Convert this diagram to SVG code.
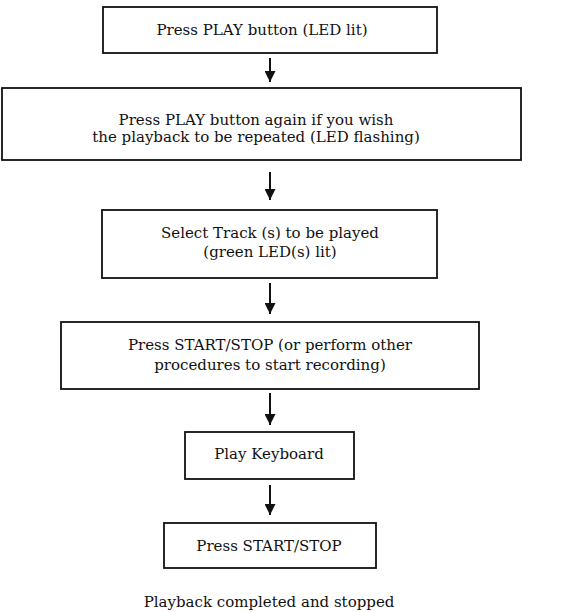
<svg xmlns="http://www.w3.org/2000/svg" width="562" height="612" viewBox="0 0 562 612">
<defs>
<style>
.box{fill:#fff;stroke:#111;stroke-width:1.8}
.t{font-family:"DejaVu Serif","Liberation Serif",serif;font-size:15px;fill:#111;text-anchor:middle}
.c{stroke:#111;stroke-width:2;fill:none}
</style>
<marker id="ah" viewBox="0 0 10 10" refX="10" refY="5" markerWidth="5.5" markerHeight="5.5" orient="auto" markerUnits="strokeWidth">
<path d="M0,0 L10,5 L0,10 z" fill="#111"/>
</marker>
</defs>
<rect width="562" height="612" fill="#fff"/>
<g id="n1"><rect class="box" x="103" y="7" width="334" height="46"/><text class="t" x="262" y="35">Press PLAY button (LED lit)</text></g>
<g id="n2"><rect class="box" x="2" y="88" width="519" height="72"/><text class="t" x="256" y="125">Press PLAY button again if you wish</text><text class="t" x="256" y="142">the playback to be repeated (LED flashing)</text></g>
<g id="n3"><rect class="box" x="102" y="210" width="335" height="68"/><text class="t" x="270" y="238">Select Track (s) to be played</text><text class="t" x="270" y="257">(green LED(s) lit)</text></g>
<g id="n4"><rect class="box" x="61" y="322" width="418" height="67"/><text class="t" x="270" y="350">Press START/STOP (or perform other</text><text class="t" x="270" y="370">procedures to start recording)</text></g>
<g id="n5"><rect class="box" x="185" y="432" width="169" height="47"/><text class="t" x="269" y="459">Play Keyboard</text></g>
<g id="n6"><rect class="box" x="164" y="523" width="212" height="45"/><text class="t" x="269" y="551">Press START/STOP</text></g>
<g id="n7"><text class="t" x="269" y="607">Playback completed and stopped</text></g>
<g id="connectors">
<line class="c" x1="270" y1="58" x2="270" y2="82" marker-end="url(#ah)"/>
<line class="c" x1="270" y1="172" x2="270" y2="200" marker-end="url(#ah)"/>
<line class="c" x1="270" y1="283" x2="270" y2="314" marker-end="url(#ah)"/>
<line class="c" x1="270" y1="393" x2="270" y2="425" marker-end="url(#ah)"/>
<line class="c" x1="270" y1="485" x2="270" y2="515" marker-end="url(#ah)"/>
</g>
</svg>
